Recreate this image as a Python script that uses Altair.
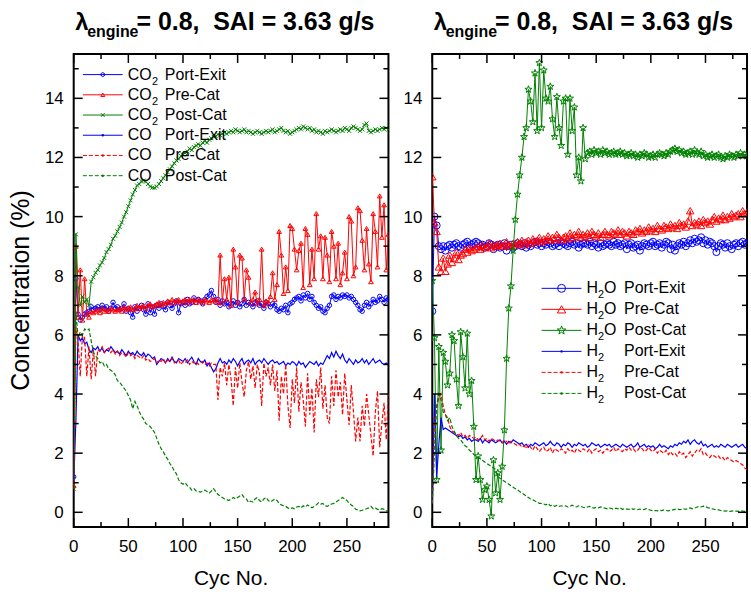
import altair as alt
import pandas as pd

FONT = "Liberation Sans"
BLUE, RED, GREEN = "#0000ff", "#ff0000", "#008000"

# engine cycle number (every second cycle is plotted)
CYCLES = list(range(0, 289, 2))

# ---- left panel: CO2 / CO concentration (%) ----
co2_port = [
    1.2, 7.9, 6.7, 6.5, 6.6, 6.7, 6.75, 6.8, 6.95, 6.85,
    6.9, 6.95, 6.85, 7.0, 6.9, 6.95, 6.8, 6.9, 7.1, 6.9,
    6.95, 6.85, 6.9, 7.05, 6.8, 6.9, 6.75, 6.6, 6.95, 6.8,
    6.9, 7.0, 6.85, 6.7, 7.05, 6.75, 6.95, 6.7, 7.0, 6.9,
    7.05, 6.95, 6.85, 7.1, 7.0, 6.9, 7.05, 7.15, 6.75, 7.05,
    7.1, 7.0, 7.2, 7.05, 7.1, 7.25, 7.1, 7.2, 7.15, 7.05,
    7.2, 7.3, 7.35, 7.5, 7.3, 7.1, 7.2, 7.0, 7.15, 7.05,
    7.1, 6.95, 7.05, 7.15, 7.0, 7.1, 6.95, 7.05, 7.2, 7.0,
    7.1, 7.05, 6.95, 7.1, 7.15, 7.0, 7.05, 6.9, 7.1, 7.05,
    6.95, 7.05, 7.0, 6.85, 6.8, 6.9, 6.85, 7.0, 6.75, 7.05,
    7.1, 7.2, 7.25, 7.3, 7.15, 7.35, 7.25, 7.4, 7.2, 7.3,
    7.1, 7.0, 6.9, 6.95, 6.8, 6.75, 6.9, 7.0, 7.3, 7.35,
    7.2, 7.3, 7.25, 7.35, 7.3, 7.35, 7.25, 7.3, 7.2, 7.1,
    7.0, 6.85, 6.8, 7.0, 7.1, 6.95, 7.05, 7.2, 7.1, 7.15,
    7.3, 7.2, 7.1, 7.25, 7.2,
]
co2_pre = [
    0.9, 9.0, 6.6, 8.2, 6.5, 7.9, 6.7, 6.6, 6.8, 6.75,
    6.8, 6.85, 6.75, 6.9, 6.8, 6.85, 6.8, 6.9, 6.85, 6.8,
    6.85, 6.9, 6.8, 6.95, 6.85, 6.9, 6.95, 6.85, 6.9, 7.0,
    6.9, 6.95, 7.0, 6.9, 7.0, 7.05, 6.95, 7.0, 7.05, 7.1,
    7.0, 7.1, 7.05, 7.15, 7.1, 7.2, 7.1, 7.15, 7.2, 7.1,
    7.15, 7.2, 7.1, 7.2, 7.15, 7.2, 7.1, 7.2, 7.15, 7.1,
    7.2, 7.15, 7.1, 7.2, 7.15, 7.2, 7.1, 8.7, 7.1, 7.9,
    7.2, 7.95, 7.0, 8.9, 8.3, 7.1, 8.7, 8.6, 7.2, 8.2,
    7.95, 7.1, 7.2, 7.45, 7.05, 7.2, 8.9, 7.0, 7.15, 7.1,
    7.3, 8.1, 7.2, 7.7, 9.5, 8.7, 7.4, 8.3, 7.5, 9.7,
    9.6, 8.9, 8.2, 8.85, 9.1, 7.6, 9.6, 9.4, 7.7, 8.9,
    7.9, 10.1, 8.9, 9.35, 7.9, 9.3, 8.7, 7.8, 9.5, 9.0,
    7.9, 9.1, 7.7, 8.1, 8.8, 7.9, 10.0, 9.85, 8.0, 8.3,
    10.3, 10.2, 9.2, 8.2, 9.6, 8.4, 7.8, 10.1, 9.5, 8.3,
    10.7, 9.3, 10.4, 8.2, 9.4,
]
co2_post = [
    0.8, 9.4, 7.6, 7.0, 7.3, 7.1, 7.2, 7.0, 7.8, 7.95,
    8.1, 8.2, 8.35, 8.45, 8.6, 8.8, 8.9, 9.05, 9.25, 9.35,
    9.5, 9.65, 9.8, 10.0, 10.15, 10.35, 10.55, 10.75, 10.9, 11.05,
    11.1, 11.2, 11.22, 11.18, 11.1, 11.02, 10.98, 10.97, 11.02, 11.1,
    11.2, 11.3, 11.4, 11.5, 11.6, 11.7, 11.8, 11.9, 11.95, 12.05,
    12.1, 12.15, 12.2, 12.3, 12.25, 12.35, 12.4, 12.45, 12.4, 12.5,
    12.55, 12.5, 12.6, 12.65, 12.7, 12.72, 12.78, 12.75, 12.8, 12.85,
    12.8, 12.85, 12.9, 12.85, 12.95, 12.9, 12.85, 12.9, 12.95, 12.85,
    12.9, 12.85, 12.8, 12.85, 12.9, 12.85, 12.8, 12.85, 12.9, 12.85,
    12.9, 12.95, 12.85, 12.9, 12.95, 13.0, 12.9, 12.85, 12.9, 12.8,
    12.85, 12.9, 12.95, 13.0, 12.95, 13.05, 13.0, 12.95, 13.0, 12.9,
    12.95, 12.85, 12.9, 12.85, 12.8, 12.9, 12.85, 12.9, 12.95, 12.9,
    12.85, 12.9, 12.95, 12.9, 13.0, 12.95, 12.9, 13.0, 13.05, 13.0,
    12.95, 12.9, 12.95, 13.1, 13.15, 12.9, 12.85, 12.9, 12.95, 12.9,
    12.95, 13.0, 12.95, 13.0, 12.95,
]
co_port = [
    1.0, 3.1, 6.0, 5.8, 5.9, 5.7, 5.75, 5.5, 5.4, 5.55,
    5.5, 5.6, 5.45, 5.55, 5.4, 5.5, 5.45, 5.6, 5.5, 5.4,
    5.45, 5.35, 5.5, 5.4, 5.3, 5.45, 5.35, 5.4, 5.3, 5.45,
    5.35, 5.3, 5.4, 5.25, 5.35, 5.3, 5.2, 5.25, 5.0, 5.1,
    5.2, 5.15, 5.05, 5.2, 5.1, 5.25, 5.1, 5.05, 5.2, 5.15,
    5.1, 5.2, 5.05, 5.15, 5.25, 5.1, 5.0, 5.2, 5.1, 5.05,
    5.15, 4.95, 5.05, 4.9, 4.75, 4.85, 5.05, 5.2, 5.05, 5.1,
    5.0, 5.15, 5.05, 5.2, 5.1, 4.95, 5.1, 5.2, 5.0, 5.1,
    5.15, 5.05, 5.2, 5.0, 5.1, 5.15, 5.05, 5.2, 5.1, 5.0,
    5.1, 5.15, 5.05, 5.1, 5.0, 5.05, 5.1, 4.95, 5.05, 5.0,
    5.1, 5.05, 4.95, 5.1, 5.0, 5.05, 4.9, 5.0, 5.1, 5.05,
    5.0, 5.1, 4.95, 5.05, 5.0, 5.15, 5.3, 5.2, 5.4, 5.25,
    5.45, 5.3, 5.2, 5.35, 5.15, 5.05, 5.2, 5.1, 5.0, 5.15,
    5.05, 5.1, 5.2, 5.05, 5.15, 5.0, 5.1, 5.2, 5.05, 5.1,
    5.15, 5.05, 5.0, 5.05, 5.0,
]
co_pre = [
    0.8, 6.3, 5.8, 4.6, 6.0, 5.9, 4.6, 5.6, 4.5, 5.5,
    4.6, 5.5, 5.45, 5.6, 5.4, 5.5, 5.55, 5.4, 5.5, 5.35,
    5.45, 5.3, 5.4, 5.35, 5.25, 5.4, 5.3, 5.35, 5.2, 5.3,
    5.25, 5.2, 5.3, 5.15, 5.2, 5.1, 5.15, 5.2, 5.05, 5.15,
    5.1, 5.2, 5.05, 5.15, 5.1, 5.2, 5.05, 5.1, 5.15, 5.0,
    5.1, 5.05, 5.15, 5.0, 5.1, 5.05, 5.1, 5.0, 5.05, 5.1,
    5.0, 5.05, 4.95, 5.05, 5.0, 5.0, 3.8, 4.9, 4.6, 5.05,
    4.3, 5.0, 4.5, 3.6, 4.9, 4.2, 5.05, 4.4, 3.9, 4.8,
    5.1, 4.5, 4.95, 4.2, 5.0, 4.7, 3.6, 5.05, 4.6, 4.9,
    4.3, 5.0, 4.1, 4.8, 3.1, 4.6, 4.0, 5.0, 3.6, 2.85,
    4.5, 3.7, 4.9, 3.4, 4.4, 3.8, 2.9, 4.7, 3.3, 4.2,
    2.7, 4.5, 3.9, 4.9, 3.5, 4.3, 3.2, 3.0, 4.6, 3.6,
    4.8, 3.9, 4.4, 3.3, 4.7, 3.8, 2.95, 4.3, 3.4, 2.4,
    3.2, 2.4, 3.6, 2.9, 4.0, 3.3, 2.6, 1.9, 3.4, 4.1,
    2.2, 3.0, 3.7, 2.45, 4.0,
]
co_post = [
    0.9, 6.8, 5.9, 6.1, 6.0, 6.2, 6.15, 6.2, 5.8, 5.4,
    5.3, 5.2, 5.05, 5.1, 4.95, 5.0, 4.85, 4.8, 4.75, 4.65,
    4.45, 4.4, 4.3, 4.2, 4.1, 3.95, 3.8, 3.5, 3.75, 3.6,
    3.4, 3.25, 3.15, 3.0, 2.95, 2.9, 2.8, 2.7, 2.5, 2.3,
    2.15, 2.05, 1.9, 1.8, 1.65, 1.55, 1.4, 1.3, 1.1, 1.0,
    0.95, 1.0, 0.9, 0.85, 0.75, 0.8, 0.72, 0.7, 0.68, 0.72,
    0.75, 0.7, 0.65, 0.72, 0.8, 0.7, 0.6, 0.55, 0.5, 0.45,
    0.43, 0.4, 0.45, 0.5, 0.45, 0.5, 0.55, 0.6, 0.5, 0.45,
    0.33, 0.38, 0.35, 0.45, 0.5, 0.4, 0.35, 0.45, 0.5, 0.4,
    0.35, 0.4, 0.45, 0.4, 0.3, 0.25, 0.22, 0.2, 0.15, 0.12,
    0.15, 0.12, 0.18, 0.2, 0.15, 0.22, 0.18, 0.25, 0.2, 0.15,
    0.2, 0.25, 0.32, 0.28, 0.3, 0.22, 0.2, 0.25, 0.28, 0.3,
    0.35, 0.4, 0.45, 0.5, 0.45, 0.4, 0.3, 0.25, 0.2, 0.1,
    0.08, 0.05, 0.07, 0.1, 0.12, 0.15, 0.2, 0.12, 0.15, 0.1,
    0.08, 0.12, 0.1, 0.05, 0.07,
]

# ---- right panel: H2O / H2 concentration (%) ----
h2o_port = [
    6.8, 10.0, 9.7, 9.0, 8.9, 9.0, 8.85, 9.0, 9.05, 8.95,
    9.05, 9.1, 9.0, 8.95, 9.05, 9.1, 9.15, 9.0, 9.05, 9.1,
    9.15, 9.1, 9.0, 9.05, 8.95, 9.0, 9.1, 9.05, 8.9, 9.0,
    9.05, 8.95, 9.0, 9.1, 8.85, 9.0, 9.05, 8.95, 9.0, 9.1,
    9.05, 9.0, 9.1, 8.95, 9.05, 9.0, 9.1, 9.15, 9.05, 9.1,
    9.0, 9.1, 9.05, 9.15, 9.1, 9.0, 9.05, 9.1, 9.0, 9.15,
    9.1, 9.05, 9.0, 9.1, 9.15, 9.05, 9.1, 8.95, 9.05, 9.1,
    9.1, 9.05, 9.15, 9.0, 9.1, 9.05, 8.95, 9.1, 9.0, 9.05,
    9.1, 9.05, 9.0, 9.15, 9.05, 9.1, 9.0, 9.05, 9.1, 8.9,
    9.05, 9.1, 8.95, 9.0, 9.05, 8.85, 9.0, 9.1, 9.05, 9.0,
    9.1, 9.15, 9.0, 9.05, 9.1, 8.95, 9.05, 9.15, 9.1, 8.9,
    9.05, 8.85, 9.0, 9.1, 9.05, 9.15, 9.0, 9.1, 9.2, 9.1,
    9.25, 9.15, 9.2, 9.3, 9.1, 9.2, 9.05, 9.15, 9.1, 9.0,
    8.8, 9.0, 9.1, 9.05, 8.95, 9.1, 9.0, 8.9, 9.05, 9.1,
    9.0, 9.1, 9.15, 9.05, 9.1,
]
h2o_pre = [
    11.35, 9.8, 9.5, 8.3, 8.15, 8.6, 8.15, 8.4, 8.7, 8.45,
    8.6, 8.8, 8.55, 8.7, 8.75, 8.9, 8.8, 8.95, 8.85, 8.9,
    8.95, 9.0, 8.9, 9.05, 8.95, 9.0, 9.1, 8.95, 9.05, 9.0,
    9.05, 9.1, 9.0, 9.05, 9.15, 9.05, 9.0, 9.1, 9.05, 9.15,
    9.1, 9.2, 9.05, 9.15, 9.2, 9.1, 9.25, 9.15, 9.2, 9.3,
    9.15, 9.25, 9.2, 9.35, 9.2, 9.3, 9.25, 9.4, 9.3, 9.2,
    9.3, 9.35, 9.25, 9.45, 9.3, 9.4, 9.35, 9.5, 9.3, 9.4,
    9.35, 9.45, 9.3, 9.5, 9.4, 9.35, 9.45, 9.3, 9.4, 9.5,
    9.4, 9.35, 9.5, 9.45, 9.4, 9.55, 9.4, 9.5, 9.45, 9.35,
    9.5, 9.45, 9.4, 9.55, 9.5, 9.6, 9.45, 9.55, 9.5, 9.65,
    9.55, 9.6, 9.5, 9.7, 9.6, 9.55, 9.7, 9.65, 9.6, 9.75,
    9.65, 9.7, 9.6, 9.8, 9.7, 9.75, 9.65, 9.85, 10.2, 9.7,
    9.8, 9.75, 9.85, 9.7, 9.9, 9.8, 9.85, 9.75, 9.9, 10.0,
    9.85, 9.95, 9.9, 10.05, 9.9, 10.0, 9.95, 10.1, 10.0, 10.05,
    10.1, 10.0, 10.2, 10.1, 10.15,
]
h2o_post = [
    7.83, 5.9, 1.1, 5.6, 2.1, 5.4, 5.1, 4.3, 4.7, 6.0,
    5.8, 4.5, 3.6, 6.1, 5.25, 4.2, 6.05, 4.0, 4.45, 2.9,
    1.1, 1.9, 1.1, 0.43, 0.76, 0.88, 0.43, -0.13, 1.77, 0.65,
    1.33, 0.43, 1.55, 2.78, 5.2, 6.9, 7.65, 8.85, 9.9, 10.75,
    11.4, 12.0, 12.7, 13.0, 14.3, 13.9, 13.2, 14.85, 12.9, 15.2,
    13.0, 14.95, 14.0, 13.9, 14.4, 13.3, 12.7, 14.05, 13.0, 12.4,
    13.9, 14.0, 12.1, 14.0, 12.9, 13.7, 11.4, 12.0, 11.2, 13.0,
    11.95, 12.15, 12.2, 12.1, 12.25, 12.15, 12.2, 12.1, 12.25, 12.15,
    12.2, 12.1, 12.15, 12.2, 12.1, 12.15, 12.2, 12.1, 12.15, 12.05,
    12.1, 12.15, 12.05, 12.1, 12.0, 12.1, 12.05, 12.15, 12.1, 12.0,
    12.05, 12.1, 12.0, 12.1, 12.15, 12.1, 12.05, 12.15, 12.1, 12.2,
    12.25, 12.3, 12.2, 12.25, 12.15, 12.2, 12.1, 12.15, 12.2, 12.1,
    12.25, 12.15, 12.1, 12.2, 12.05, 12.1, 12.0, 12.05, 12.1, 12.0,
    12.05, 12.1, 12.0, 11.95, 12.05, 12.0, 12.1, 12.05, 12.0, 12.1,
    12.05, 12.15, 12.05, 12.1, 12.05,
]
h2_port = [
    0.3, 4.0, 1.2, 2.3, 3.2, 2.8, 2.85, 2.8, 2.75, 2.7,
    2.65, 2.6, 2.55, 2.6, 2.5, 2.55, 2.45, 2.5, 2.4, 2.45,
    2.45, 2.4, 2.5, 2.35, 2.45, 2.4, 2.35, 2.45, 2.4, 2.35,
    2.4, 2.45, 2.35, 2.4, 2.3, 2.4, 2.35, 2.45, 2.4, 2.35,
    2.3, 2.35, 2.25, 2.3, 2.2, 2.3, 2.25, 2.35, 2.3, 2.25,
    2.3, 2.35, 2.25, 2.3, 2.4, 2.3, 2.25, 2.35, 2.3, 2.2,
    2.3, 2.25, 2.35, 2.3, 2.2, 2.3, 2.25, 2.35, 2.3, 2.25,
    2.3, 2.2, 2.25, 2.35, 2.3, 2.25, 2.3, 2.2, 2.25, 2.3,
    2.25, 2.3, 2.2, 2.25, 2.3, 2.25, 2.2, 2.3, 2.25, 2.2,
    2.25, 2.3, 2.2, 2.25, 2.35, 2.2, 2.25, 2.3, 2.2, 2.25,
    2.2, 2.25, 2.15, 2.2, 2.3, 2.2, 2.25, 2.2, 2.15, 2.25,
    2.2, 2.3, 2.25, 2.35, 2.3, 2.4, 2.35, 2.45, 2.3, 2.4,
    2.45, 2.35, 2.3, 2.4, 2.25, 2.3, 2.2, 2.25, 2.3, 2.2,
    2.25, 2.2, 2.3, 2.25, 2.2, 2.3, 2.25, 2.2, 2.25, 2.3,
    2.2, 2.25, 2.3, 2.2, 2.15,
]
h2_pre = [
    0.3, 3.0, 3.5, 3.9, 4.0, 3.6, 3.3, 3.2, 2.9, 2.75,
    2.7, 2.65, 2.6, 2.7, 2.55, 2.6, 2.5, 2.6, 2.55, 2.5,
    2.55, 2.45, 2.5, 2.6, 2.45, 2.5, 2.4, 2.5, 2.45, 2.4,
    2.45, 2.4, 2.35, 2.45, 2.4, 2.3, 2.4, 2.35, 2.3, 2.25,
    2.3, 2.2, 2.25, 2.15, 2.3, 2.2, 2.1, 2.25, 2.15, 2.05,
    2.15, 2.2, 2.05, 2.1, 2.2, 2.0, 2.15, 2.1, 2.05, 2.15,
    2.1, 2.0, 2.15, 2.05, 2.1, 2.0, 2.15, 2.1, 2.05, 2.15,
    2.1, 2.05, 2.15, 2.0, 2.1, 2.15, 2.05, 2.1, 2.0, 2.1,
    2.15, 2.05, 2.1, 2.2, 2.05, 2.15, 2.1, 2.05, 2.15, 2.1,
    2.2, 2.1, 2.15, 2.05, 2.1, 2.2, 2.15, 2.05, 2.1, 2.2,
    2.1, 2.05, 2.15, 2.0, 2.1, 2.05, 2.0, 2.1, 1.95, 2.05,
    1.95, 2.0, 1.9, 2.05, 1.95, 2.0, 1.85, 1.95, 2.05, 1.9,
    2.0, 2.1, 2.05, 2.15, 1.95, 2.0, 1.9, 1.85, 1.95, 1.9,
    1.85, 1.9, 1.8, 1.85, 1.75, 1.85, 1.8, 1.75, 1.7, 1.75,
    1.7, 1.65, 1.6, 1.5, 1.45,
]
h2_post = [
    0.3, 2.0, 3.6, 4.0, 3.8, 3.4, 3.3, 3.1, 3.2, 2.9,
    2.75, 2.6, 2.5, 2.45, 2.35, 2.25, 2.2, 2.1, 2.05, 1.95,
    1.9, 1.85, 1.8, 1.75, 1.7, 1.65, 1.6, 1.55, 1.5, 1.45,
    1.2, 1.15, 1.1, 1.05, 1.0, 0.95, 0.9, 0.85, 0.8, 0.76,
    0.7, 0.65, 0.6, 0.55, 0.5, 0.45, 0.42, 0.38, 0.35, 0.3,
    0.3, 0.28, 0.25, 0.3, 0.22, 0.25, 0.2, 0.23, 0.2, 0.22,
    0.2, 0.22, 0.18, 0.2, 0.24, 0.2, 0.18, 0.22, 0.2, 0.17,
    0.15, 0.18, 0.2, 0.16, 0.14, 0.17, 0.15, 0.18, 0.16, 0.14,
    0.12, 0.15, 0.13, 0.1, 0.14, 0.12, 0.15, 0.1, 0.12, 0.11,
    0.1, 0.13, 0.1, 0.12, 0.09, 0.11, 0.08, 0.1, 0.12, 0.09,
    0.07, 0.05, 0.06, 0.05, 0.07, 0.06, 0.08, 0.06, 0.05, 0.07,
    0.08, 0.1, 0.12, 0.09, 0.1, 0.12, 0.1, 0.13, 0.15, 0.12,
    0.14, 0.17, 0.2, 0.18, 0.21, 0.19, 0.16, 0.14, 0.12, 0.1,
    0.09, 0.08, 0.06, 0.05, 0.04, 0.05, 0.03, 0.04, 0.05, 0.04,
    0.03, 0.05, 0.04, 0.03, 0.02,
]

X_MAJOR = [0, 50, 100, 150, 200, 250]
X_MINOR = [25, 75, 125, 175, 225, 275]
Y_MAJOR = [0, 2, 4, 6, 8, 10, 12, 14]
Y_MINOR = [1, 3, 5, 7, 9, 11, 13, 15]

TITLE_MAIN = "= 0.8,\u00a0 SAI = 3.63 g/s"

W, H = 316, 475
XS = alt.Scale(domain=[0, 288], nice=False, zero=False)
YS = alt.Scale(domain=[-0.5, 15.5], nice=False, zero=False)

CROSS = "M-1,-1L1,1M-1,1L1,-1"
STAR = ("M0,-1L0.235,-0.324L0.951,-0.309L0.38,0.124L0.588,0.809L0,0.4"
        "L-0.588,0.809L-0.38,0.124L-0.951,-0.309L-0.235,-0.324Z")
DASH = [4, 2]

ONE = pd.DataFrame({"k": [0]})


def X(field):
    return alt.X(field, scale=XS, axis=None)


def Y(field):
    return alt.Y(field, scale=YS, axis=None)


def series(values, color, shape=None, size=0, dash=None, width=1.0):
    assert len(values) == len(CYCLES)
    df = pd.DataFrame({"cyc": CYCLES, "val": values})
    enc = dict(x=X("cyc:Q"), y=Y("val:Q"))
    line_kw = dict(color=color, strokeWidth=width, clip=True)
    if dash:
        line_kw["strokeDash"] = dash
    out = [alt.Chart(df).mark_line(**line_kw).encode(**enc)]
    if shape:
        out.append(alt.Chart(df).mark_point(shape=shape, size=size, filled=False, color=color,
                                            strokeWidth=1, opacity=1, clip=True).encode(**enc))
    return out


def frame_ticks():
    """Inward ticks on all four sides of the frame, plus tick labels."""
    out = []
    for vals, n in ((X_MAJOR, 9), (X_MINOR, 5)):
        d = pd.DataFrame({"v": vals})
        out.append(alt.Chart(d).mark_rule(color="black", strokeWidth=1.5)
                   .encode(x=X("v:Q"), y=alt.value(H), y2=alt.value(H - n)))
        out.append(alt.Chart(d).mark_rule(color="black", strokeWidth=1.5)
                   .encode(x=X("v:Q"), y=alt.value(0), y2=alt.value(n)))
    for vals, n in ((Y_MAJOR, 9), (Y_MINOR, 5)):
        d = pd.DataFrame({"v": vals})
        out.append(alt.Chart(d).mark_rule(color="black", strokeWidth=1.5)
                   .encode(y=Y("v:Q"), x=alt.value(0), x2=alt.value(n)))
        out.append(alt.Chart(d).mark_rule(color="black", strokeWidth=1.5)
                   .encode(y=Y("v:Q"), x=alt.value(W), x2=alt.value(W - n)))
    dx = pd.DataFrame({"v": X_MAJOR, "t": [str(v) for v in X_MAJOR]})
    out.append(alt.Chart(dx).mark_text(fontSize=17, font=FONT, color="black", align="center",
                                       baseline="alphabetic")
               .encode(x=X("v:Q"), y=alt.value(H + 25), text="t:N"))
    dy = pd.DataFrame({"v": Y_MAJOR, "t": [str(v) for v in Y_MAJOR]})
    out.append(alt.Chart(dy).mark_text(fontSize=17, font=FONT, color="black", align="right",
                                       baseline="alphabetic", dy=6)
               .encode(y=Y("v:Q"), x=alt.value(-10), text="t:N"))
    return out


def label(text, x, y, size, weight="normal", align="left", baseline="alphabetic", angle=None):
    kw = dict(text=text, fontSize=size, font=FONT, color="black", align=align,
              baseline=baseline, fontWeight=weight)
    if angle is not None:
        kw["angle"] = angle
    return alt.Chart(ONE).mark_text(**kw).encode(x=alt.value(x), y=alt.value(y))


def legend(rows, x0, x1, y0, dy, xmain, xsub, xtail, xdesc):
    out = []
    xm = (x0 + x1) / 2
    for i, (color, dash, shape, size, filled, main, sub, tail, desc) in enumerate(rows):
        y = y0 + i * dy
        rkw = dict(color=color, strokeWidth=1)
        if dash:
            rkw["strokeDash"] = dash
        out.append(alt.Chart(ONE).mark_rule(**rkw)
                   .encode(x=alt.value(x0), x2=alt.value(x1), y=alt.value(y)))
        out.append(alt.Chart(ONE).mark_point(shape=shape, size=size, filled=filled, color=color,
                                             strokeWidth=1, opacity=1)
                   .encode(x=alt.value(xm), y=alt.value(y)))
        out.append(label(main, xmain, y, 16, baseline="middle"))
        if sub:
            out.append(label(sub, xsub, y + 7, 11, baseline="middle"))
        if tail:
            out.append(label(tail, xtail, y, 16, baseline="middle"))
        out.append(label(desc, xdesc, y, 16, baseline="middle"))
    return out


def panel_title():
    return [
        label("\u03bb", 1.5, -24.5, 24, weight="bold"),
        label("engine", 13.5, -17.5, 16, weight="bold"),
        label(TITLE_MAIN, 63, -24.5, 25, weight="bold"),
        label("Cyc No.", W / 2, 533, 21, align="center"),
    ]


left_layers = (
    series(co2_port, BLUE, "circle", 20)
    + series(co2_pre, RED, "triangle-up", 22)
    + series(co2_post, GREEN, CROSS, 16)
    + series(co_port, BLUE, width=1.2)
    + series(co_pre, RED, dash=DASH, width=1.2)
    + series(co_post, GREEN, dash=DASH, width=1.2)
    + frame_ticks()
    + legend([
        (BLUE, None, "circle", 14, False, "CO", "2", None, "Port-Exit"),
        (RED, None, "triangle-up", 16, False, "CO", "2", None, "Pre-Cat"),
        (GREEN, None, CROSS, 14, False, "CO", "2", None, "Post-Cat"),
        (BLUE, None, "circle", 6, True, "CO", None, None, "Port-Exit"),
        (RED, DASH, "circle", 6, True, "CO", None, None, "Pre-Cat"),
        (GREEN, DASH, "circle", 6, True, "CO", None, None, "Post-Cat"),
    ], 9.2, 49.2, 20.7, 20.3, 54.2, 78.5, 0, 91.5)
    + panel_title()
    + [label("Concentration (%)", -53, H / 2, 25, align="center", baseline="middle", angle=270)]
)

right_layers = (
    series(h2o_port, BLUE, "circle", 50)
    + series(h2o_pre, RED, "triangle-up", 55)
    + series(h2o_post, GREEN, STAR, 55)
    + series(h2_port, BLUE, width=1.2)
    + series(h2_pre, RED, dash=DASH, width=1.2)
    + series(h2_post, GREEN, dash=DASH, width=1.2)
    + frame_ticks()
    + legend([
        (BLUE, None, "circle", 64, False, "H", "2", "O", "Port-Exit"),
        (RED, None, "triangle-up", 70, False, "H", "2", "O", "Pre-Cat"),
        (GREEN, None, STAR, 80, False, "H", "2", "O", "Post-Cat"),
        (BLUE, None, "circle", 6, True, "H", "2", None, "Port-Exit"),
        (RED, DASH, "circle", 6, True, "H", "2", None, "Pre-Cat"),
        (GREEN, DASH, "circle", 6, True, "H", "2", None, "Post-Cat"),
    ], 109.8, 149.8, 235.3, 21.1, 154.8, 166.5, 172.5, 192.5)
    + panel_title()
)

left = alt.layer(*left_layers).properties(width=W, height=H)
right = alt.layer(*right_layers).properties(width=W, height=H)

chart = (
    alt.hconcat(left, right, spacing=44, bounds="flush")
    .properties(padding={"left": 8, "top": 7, "right": 2, "bottom": 4}, background="white")
    .configure_view(stroke="black", strokeWidth=2)
)

chart.save("out.html", embed_options={"renderer": "svg", "actions": False})
